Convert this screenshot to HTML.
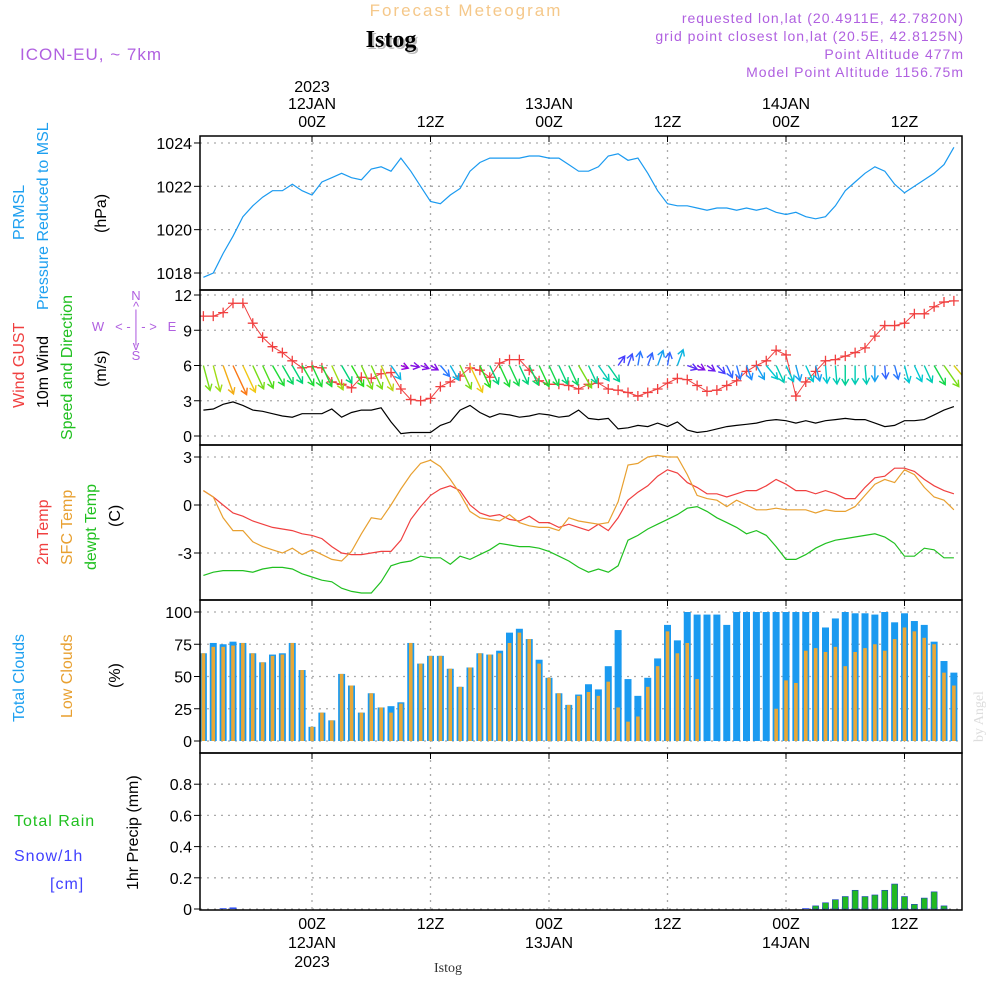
<!DOCTYPE html>
<html><head><meta charset="utf-8"><title>Forecast Meteogram - Istog</title>
<style>
html,body{margin:0;padding:0;background:#fff;}
svg{display:block;font-family:"Liberation Sans",sans-serif;}
</style></head>
<body>
<svg id="chart" width="1000" height="1000" viewBox="0 0 1000 1000" xmlns="http://www.w3.org/2000/svg">
<defs><clipPath id="plotclip"><rect x="200" y="136" width="762" height="774"/></clipPath></defs>
<rect x="0" y="0" width="1000" height="1000" fill="#fff"/>
<text x="466" y="16" font-size="17" fill="#f5c88a" text-anchor="middle" letter-spacing="2">Forecast Meteogram</text>
<text x="393" y="49" font-size="24" font-weight="bold" fill="#bbb" text-anchor="middle" font-family="Liberation Serif,serif">Istog</text>
<text x="391" y="47" font-size="24" font-weight="bold" fill="#000" text-anchor="middle" font-family="Liberation Serif,serif">Istog</text>
<text x="20" y="60" font-size="17" fill="#b060e0" letter-spacing="1">ICON-EU, ~ 7km</text>
<g font-size="14" fill="#b060e0" text-anchor="end" letter-spacing="1">
<text x="964" y="23">requested lon,lat (20.4911E, 42.7820N)</text>
<text x="964" y="41">grid point closest lon,lat (20.5E, 42.8125N)</text>
<text x="964" y="59">Point Altitude 477m</text>
<text x="964" y="77">Model Point Altitude 1156.75m</text>
</g>
<g font-size="16">
<text transform="translate(24,240) rotate(-90)" fill="#1ea0f0">PRMSL</text>
<text transform="translate(48,310) rotate(-90)" fill="#1ea0f0">Pressure Reduced to MSL</text>
<text transform="translate(106,233) rotate(-90)" fill="#000">(hPa)</text>
<text transform="translate(24,408) rotate(-90)" fill="#f04040">Wind GUST</text>
<text transform="translate(48,408) rotate(-90)" fill="#000">10m Wind</text>
<text transform="translate(72,440) rotate(-90)" fill="#20c020">Speed and Direction</text>
<text transform="translate(106,387) rotate(-90)" fill="#000">(m/s)</text>
<text transform="translate(48,565) rotate(-90)" fill="#f04040">2m Temp</text>
<text transform="translate(72,565) rotate(-90)" fill="#e8a030">SFC Temp</text>
<text transform="translate(96,570) rotate(-90)" fill="#20c020">dewpt Temp</text>
<text transform="translate(120,527) rotate(-90)" fill="#000">(C)</text>
<text transform="translate(24,722) rotate(-90)" fill="#1ea0f0">Total Clouds</text>
<text transform="translate(72,718) rotate(-90)" fill="#e8a030">Low Clouds</text>
<text transform="translate(120,688) rotate(-90)" fill="#000">(%)</text>
<text x="14" y="826" fill="#20c020" letter-spacing="1">Total  Rain</text>
<text x="14" y="861" fill="#4040ff" letter-spacing="1">Snow/1h</text>
<text x="50" y="889" fill="#4040ff" letter-spacing="1">[cm]</text>
<text transform="translate(138,890) rotate(-90)" fill="#000">1hr Precip (mm)</text>
</g>
<g font-size="13" fill="#b060e0" text-anchor="middle">
<text x="136" y="300">N</text><text x="136" y="311">^</text><text x="136" y="319">|</text>
<text x="98" y="331">W</text><text x="136" y="331">&lt; - | - &gt;</text><text x="172" y="331">E</text>
<text x="136" y="343">|</text><text x="136" y="350">v</text><text x="136" y="360">S</text>
</g>
<text transform="translate(983,742) rotate(-90)" font-size="14" fill="#ddd" font-family="Liberation Serif,serif">by Angel</text>
<text x="448" y="972" font-size="14" text-anchor="middle" font-family="Liberation Serif,serif" fill="#333">Istog</text>
<g id="plots"></g>
</svg>
<script>
const hours = [];
for (let h = -11; h <= 65; h++) hours.push(h);
const pressure = [1017.8,1018.0,1018.9,1019.7,1020.6,1021.1,1021.5,1021.8,1021.8,1022.1,1021.8,
1021.6,1022.2,1022.4,1022.6,1022.4,1022.3,1022.8,1022.9,1022.7,1023.3,1022.7,1022.0,
1021.3,1021.2,1021.6,1021.9,1022.7,1023.1,1023.3,1023.3,1023.3,1023.3,1023.4,1023.4,
1023.3,1023.3,1023.0,1022.7,1022.7,1022.9,1023.4,1023.5,1023.2,1023.3,1022.6,1021.8,
1021.2,1021.1,1021.1,1021.0,1020.9,1021.0,1021.0,1020.9,1021.0,1020.9,1021.0,1020.8,
1020.7,1020.8,1020.6,1020.5,1020.6,1021.1,1021.8,1022.2,1022.6,1022.9,1022.7,1022.1,
1021.7,1022.0,1022.3,1022.6,1023.0,1023.8];
const wind10m = [2.2,2.3,2.7,2.9,2.6,2.2,2.1,1.9,1.7,1.6,1.9,
1.9,1.9,2.3,1.6,2.0,2.2,2.2,2.4,1.2,0.2,0.3,0.3,
0.3,0.9,1.2,2.2,2.6,2.0,1.6,1.9,1.8,1.6,1.7,1.9,
1.8,1.6,1.7,2.2,1.5,1.4,1.5,0.6,0.7,0.9,0.8,1.1,
0.8,1.2,0.5,0.3,0.4,0.6,0.8,0.9,1.0,1.1,1.3,1.4,
1.3,1.1,1.3,1.1,1.3,1.4,1.5,1.4,1.4,1.1,0.8,0.9,
1.3,1.3,1.4,1.8,2.2,2.5];
const windGust = [10.2,10.2,10.5,11.3,11.3,9.6,8.4,7.6,7.1,6.4,5.8,
5.9,5.8,4.6,4.4,4.1,5.0,4.9,5.3,5.4,4.0,3.1,3.0,
3.2,4.2,4.6,5.1,5.8,5.6,5.0,6.2,6.5,6.5,5.6,4.7,
4.4,4.4,4.3,4.0,4.4,4.5,4.0,3.9,3.7,3.4,3.7,4.0,
4.5,4.9,4.8,4.3,3.8,3.9,4.3,4.7,5.5,6.0,6.4,7.3,
6.9,3.4,4.6,5.5,6.4,6.5,6.8,7.1,7.5,8.5,9.4,9.4,
9.6,10.4,10.4,11.0,11.4,11.5];
const windToDir = [165,165,160,155,155,155,155,150,150,150,150,
155,155,155,150,150,155,155,155,145,110,100,110,
120,140,150,155,155,155,155,155,155,155,155,155,
155,155,155,150,155,145,145,35,20,10,20,20,
10,20,110,120,125,135,155,165,160,150,140,155,
155,165,155,165,175,175,180,180,175,180,175,165,
165,155,155,150,145,140];
const temp2m = [0.9,0.5,0.0,-0.5,-0.7,-1.0,-1.2,-1.4,-1.5,-1.6,-1.8,
-1.9,-2.1,-2.6,-3.0,-3.1,-3.1,-3.0,-2.9,-2.9,-2.2,-0.9,-0.1,
0.6,1.0,1.2,0.9,0.0,-0.5,-0.7,-0.6,-0.9,-1.0,-0.7,-1.1,
-1.1,-1.4,-1.2,-1.4,-1.6,-1.2,-1.6,-0.8,0.3,0.8,1.2,1.8,
2.2,2.0,1.4,1.1,0.7,0.7,0.5,0.7,0.9,0.9,1.2,1.6,
1.3,0.9,0.9,0.7,0.9,0.7,0.4,0.4,1.1,1.7,1.8,2.3,
2.3,2.1,1.6,1.2,0.9,0.7];
const tempSfc = [0.9,0.5,-0.8,-1.6,-1.6,-2.3,-2.6,-2.8,-3.0,-2.7,-3.1,
-2.8,-3.1,-3.4,-3.5,-2.9,-1.8,-0.8,-0.9,0.0,1.0,1.9,2.6,
2.8,2.4,1.6,0.7,-0.4,-0.8,-0.9,-1.0,-0.6,-1.1,-1.3,-1.4,
-1.4,-1.6,-0.8,-1.0,-1.1,-1.2,-1.1,0.2,2.5,2.6,3.0,3.1,
3.0,3.0,1.9,0.6,0.4,0.3,-0.1,0.3,0.0,-0.3,-0.3,-0.2,
-0.3,-0.3,-0.3,-0.5,-0.3,-0.4,-0.4,-0.1,0.6,1.3,1.6,1.4,
2.2,1.9,1.1,0.5,0.3,-0.3];
const dewpt = [-4.4,-4.2,-4.1,-4.1,-4.1,-4.2,-4.0,-3.9,-3.9,-4.0,-4.3,
-4.5,-4.7,-4.8,-5.2,-5.4,-5.5,-5.5,-4.8,-3.8,-3.6,-3.5,-3.2,
-3.3,-3.3,-3.7,-3.2,-3.4,-3.1,-2.8,-2.4,-2.5,-2.6,-2.6,-2.7,
-2.9,-3.2,-3.5,-3.9,-4.2,-4.0,-4.2,-3.8,-2.2,-1.9,-1.5,-1.2,
-0.9,-0.6,-0.2,-0.1,-0.4,-0.8,-1.1,-1.4,-1.8,-1.6,-1.9,-2.6,
-3.4,-3.4,-3.1,-2.7,-2.4,-2.2,-2.1,-2.0,-1.9,-1.8,-2.0,-2.4,
-3.2,-3.2,-2.7,-2.8,-3.3,-3.3];
const totalClouds = [68,76,75,77,76,68,61,67,68,76,55,
11,22,16,52,43,22,37,26,27,30,76,60,
66,66,56,42,57,68,67,70,84,87,79,63,
49,37,28,36,44,40,58,86,48,35,49,64,
90,78,100,98,98,98,90,100,100,100,100,100,
100,100,100,100,88,95,100,99,99,98,100,92,
99,93,90,77,62,53];
const lowClouds = [68,73,73,74,76,68,61,66,67,76,55,
11,22,16,52,43,22,37,26,22,29,76,60,
66,66,56,42,57,68,67,68,76,84,79,60,
49,37,28,35,38,35,46,26,15,19,42,58,
85,68,76,48,0,0,0,0,0,0,0,25,
47,45,70,72,69,73,58,69,72,75,70,79,
88,85,80,75,53,43];
const rain = [0,0,0,0,0,0,0,0,0,0,0,
0,0,0,0,0,0,0,0,0,0,0,0,
0,0,0,0,0,0,0,0,0,0,0,0,
0,0,0,0,0,0,0,0,0,0,0,0,
0,0,0,0,0,0,0,0,0,0,0,0,
0,0,0,0.02,0.04,0.06,0.08,0.12,0.08,0.09,0.12,0.16,
0.08,0.03,0.07,0.11,0.02,0];
const snow = [0,0,0.005,0.01,0,0,0,0,0,0,0,
0,0,0,0,0,0,0,0,0,0,0,0,
0,0,0,0,0,0,0,0,0,0,0,0,
0,0,0,0,0,0,0,0,0,0,0,0,
0,0,0,0,0,0,0,0,0,0,0,0,
0,0,0.005,0.01,0.01,0.01,0.01,0.005,0.01,0.005,0.01,0.01,
0.005,0.005,0.005,0.01,0.005,0];
const pressureTicks = [1018,1020,1022,1024];
const windTicks = [0,3,6,9,12];
const tempTicks = [-3,0,3];
const cloudTicks = [0,25,50,75,100];
const rainTicks = [0,0.2,0.4,0.6,0.8];
const timeTickHours = [0,12,24,36,48,60];
const timeTickLabels = ["00Z","12Z","00Z","12Z","00Z","12Z"];
const dayLabelHours = [0,24,48];
const dayLabels = ["12JAN","13JAN","14JAN"];

const NS = "http://www.w3.org/2000/svg";
const root = document.getElementById("plots");
const X0 = 200, X1 = 962;
const xH = h => 312 + h * 9.875;
const yP = v => 273 - (v - 1018) * 21.67;
const yW = v => 436 - v * 11.75;
const yT = v => 505 - v * 16;
const yC = v => 741 - v * 1.29;
const yR = v => 909 - v * 156;
const panels = [
  {name:"pressure-panel", top:136, bot:290, ticks:pressureTicks, y:yP, fmt:v=>String(v)},
  {name:"wind-panel", top:290, bot:445, ticks:windTicks, y:yW, fmt:v=>String(v)},
  {name:"temperature-panel", top:445, bot:600, ticks:tempTicks, y:yT, fmt:v=>String(v)},
  {name:"cloud-panel", top:600, bot:753, ticks:cloudTicks, y:yC, fmt:v=>String(v)},
  {name:"precip-panel", top:753, bot:910, ticks:rainTicks, y:yR, fmt:v=>v===0?"0":v.toFixed(1)}
];
function mk(tag, attrs, parent) {
  const e = document.createElementNS(NS, tag);
  for (const k in attrs) e.setAttribute(k, attrs[k]);
  (parent || root).appendChild(e);
  return e;
}
const frames = mk("g", {});


const marks = mk("g", {"clip-path":"url(#plotclip)"});


const borders = mk("g", {});



panels.forEach(p => {
  const g = mk("g", {}, frames);
  
  
  timeTickHours.forEach(h => {
    const l = mk("line", {x1:xH(h), x2:xH(h), y1:p.top, y2:p.bot, stroke:"#aaa", "stroke-dasharray":"2,5", "stroke-width":1.3}, g);
    
    
  });
  p.ticks.forEach(v => {
    const yy = p.y(v);
    const l = mk("line", {x1:X0, x2:X1, y1:yy, y2:yy, stroke:"#aaa", "stroke-dasharray":"2,5", "stroke-width":1.3}, g);
    
    
    const tk = mk("line", {x1:X0-6, x2:X0, y1:yy, y2:yy, stroke:"#000", "stroke-width":1}, g);
    
    
    const t = mk("text", {x:X0-8, y:yy+6, "font-size":16, "text-anchor":"end", fill:"#000"}, g);
    t.textContent = p.fmt(v);
    
    
  });
  timeTickHours.forEach(h => {
    const tk = mk("line", {x1:xH(h), x2:xH(h), y1:p.top, y2:p.top+6, stroke:"#000"}, g);
    
    
  });
  const r = mk("rect", {x:X0, y:p.top, width:X1-X0, height:p.bot-p.top, fill:"none", stroke:"#000", "stroke-width":1.5}, borders);
  
  
});
timeTickHours.forEach((h, i) => {
  const t = mk("text", {x:xH(h), y:127, "font-size":16, "text-anchor":"middle", fill:"#000"});
  t.textContent = timeTickLabels[i];
  
  
  const b = mk("text", {x:xH(h), y:929, "font-size":16, "text-anchor":"middle", fill:"#000"});
  b.textContent = timeTickLabels[i];
  
  
});
dayLabelHours.forEach((h, i) => {
  const t = mk("text", {x:xH(h), y:109, "font-size":16, "text-anchor":"middle", fill:"#000"});
  t.textContent = dayLabels[i];
  
  
  const b = mk("text", {x:xH(h), y:948, "font-size":16, "text-anchor":"middle", fill:"#000"});
  b.textContent = dayLabels[i];
  
  
});
{
  const t = mk("text", {x:xH(0), y:92, "font-size":16, "text-anchor":"middle", fill:"#000"});
  t.textContent = "2023";
  
  
  const b = mk("text", {x:xH(0), y:967, "font-size":16, "text-anchor":"middle", fill:"#000"});
  b.textContent = "2023";
  
  
}
function line(arr, yf, color, name, w) {
  const d = arr.map((v, i) => (i ? "L" : "M") + xH(hours[i]).toFixed(1) + "," + yf(v).toFixed(1)).join("");
  const p = mk("path", {d, fill:"none", stroke:color, "stroke-width":w || 1.2}, marks);
  
  
  return p;
}
totalClouds.forEach((v, i) => {
  const x = xH(hours[i]);
  const r = mk("rect", {x:x-3.5, y:yC(v), width:7, height:yC(0)-yC(v), fill:"#1a9af0"}, marks);
  
  
});
lowClouds.forEach((v, i) => {
  const x = xH(hours[i]);
  if (v <= 0) return;
  const r = mk("rect", {x:x-1.8, y:yC(v), width:3.6, height:yC(0)-yC(v), fill:"#e8a838"}, marks);
  
  
});
snow.forEach((v, i) => {
  if (v <= 0) return;
  const x = xH(hours[i]);
  const r = mk("rect", {x:x-3.5, y:yR(v), width:7, height:yR(0)-yR(v), fill:"#3050f0"}, marks);
  
  
});
rain.forEach((v, i) => {
  if (v <= 0) return;
  const x = xH(hours[i]);
  const r = mk("rect", {x:x-3, y:yR(v), width:6, height:yR(0)-yR(v), fill:"#22b822", stroke:"#2040c0", "stroke-width":0.6}, marks);
  
  
});
line(pressure, yP, "#1a9af0", "pressure-line");
line(temp2m, yT, "#f04040", "temp-2m-line");
line(tempSfc, yT, "#e8a030", "temp-sfc-line");
line(dewpt, yT, "#20c020", "dewpoint-line");
line(wind10m, yW, "#000", "wind-10m-line");
line(windGust, yW, "#f04040", "wind-gust-line", 1);
windGust.forEach((v, i) => {
  const x = xH(hours[i]), y = yW(v);
  const p = mk("path", {d:`M${x-5},${y}h10M${x},${y-5}v10`, stroke:"#f04040", "stroke-width":1.3}, marks);
  
  
});
function speedColor(s) {
  const stops = [[0.2,[150,0,220]],[0.6,[70,60,255]],[1.0,[30,140,255]],[1.3,[0,200,210]],[1.6,[0,210,120]],[2.0,[40,220,30]],[2.3,[160,220,20]],[2.6,[240,200,20]],[2.9,[250,120,20]]];
  if (s <= stops[0][0]) return `rgb(${stops[0][1]})`;
  for (let k = 1; k < stops.length; k++) {
    if (s <= stops[k][0]) {
      const t = (s - stops[k-1][0]) / (stops[k][0] - stops[k-1][0]);
      const c = stops[k-1][1].map((a, j) => Math.round(a + (stops[k][1][j] - a) * t));
      return `rgb(${c})`;
    }
  }
  return `rgb(${stops[stops.length-1][1]})`;
}
windToDir.forEach((deg, i) => {
  const s = wind10m[i];
  const x = xH(hours[i]), y = yW(6);
  const len = 6 + s * 9;
  const a = deg * Math.PI / 180;
  const dx = Math.sin(a) * len, dy = -Math.cos(a) * len;
  const ex = x + dx, ey = y + dy;
  const ux = dx / len, uy = dy / len;
  const h1x = ex - ux*6 - uy*3.5, h1y = ey - uy*6 + ux*3.5;
  const h2x = ex - ux*6 + uy*3.5, h2y = ey - uy*6 - ux*3.5;
  const p = mk("path", {d:`M${x},${y}L${ex},${ey}M${h1x},${h1y}L${ex},${ey}L${h2x},${h2y}`, stroke:speedColor(s), "stroke-width":1.4, fill:"none"}, marks);
  
  
});
</script>
</body></html>
